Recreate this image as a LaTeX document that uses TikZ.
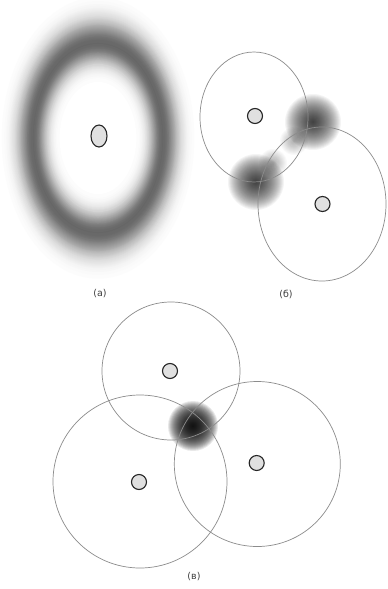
\documentclass[tikz,border=0pt]{standalone}
\usepackage{fontspec}
\setmainfont{DejaVu Sans}
\usetikzlibrary{shapes.geometric}
\begin{document}
\begin{tikzpicture}[x=1pt,y=-1pt,
  rangeline/.style={draw=black!45, line width=0.7pt},
  dev/.style={draw=black!85, fill=black!12, line width=1.1pt, circle, inner sep=0pt, minimum size=15pt},
  lbl/.style={text=black!75, font=\fontsize{9.5}{10}\selectfont, inner sep=0pt}
]
\useasboundingbox[fill=white] (0,0) rectangle (388,589);
% ---------- (a) ----------
\foreach \i in {0,...,100}{
  \pgfmathsetmacro\s{1.5-\i*0.01}
  \pgfmathsetmacro\sig{(\s>1) ? 0.24 : 0.2}
  \pgfmathtruncatemacro\k{60*exp(-((\s-1)/\sig)^2)}
  \fill[black!\k] (98,138) ellipse [x radius=65*\s, y radius=95*\s];
}
\node[dev, ellipse, minimum width=16pt, minimum height=22pt] (a0) at (99,136) {};
\node[lbl] (la) at (100,294) {(а)};
% ---------- (b) ----------
\foreach \r in {28,27,...,1}{
  \fill[black, opacity=0.042] (313,122) circle (\r);
  \fill[black, opacity=0.042] (256,182) circle (\r);
}
\foreach \r in {14,13,...,1}{
  \fill[black, opacity=0.025] (294,141) circle (\r);
  \fill[black, opacity=0.025] (273,163) circle (\r);
}
\draw[rangeline] (254,117) ellipse [x radius=54, y radius=65];
\draw[rangeline] (322,204) ellipse [x radius=64, y radius=77];
\node[dev] (b1) at (255,116) {};
\node[dev] (b2) at (322.5,204) {};
\node[lbl] (lb) at (286,294) {(б)};
% ---------- (c) ----------
\foreach \r in {25,24,...,1}{
  \fill[black, opacity=0.09] (193,426) circle (\r);
}
\draw[rangeline] (171,371) circle (69);
\draw[rangeline] (140,481.5) ellipse [x radius=87, y radius=86.5];
\draw[rangeline] (257.3,464) ellipse [x radius=83, y radius=82.5];
\node[dev] (c1) at (170,371) {};
\node[dev] (c2) at (139,482) {};
\node[dev] (c3) at (256.7,463) {};
\node[lbl] (lc) at (194,577) {(в)};
\end{tikzpicture}
\end{document}
